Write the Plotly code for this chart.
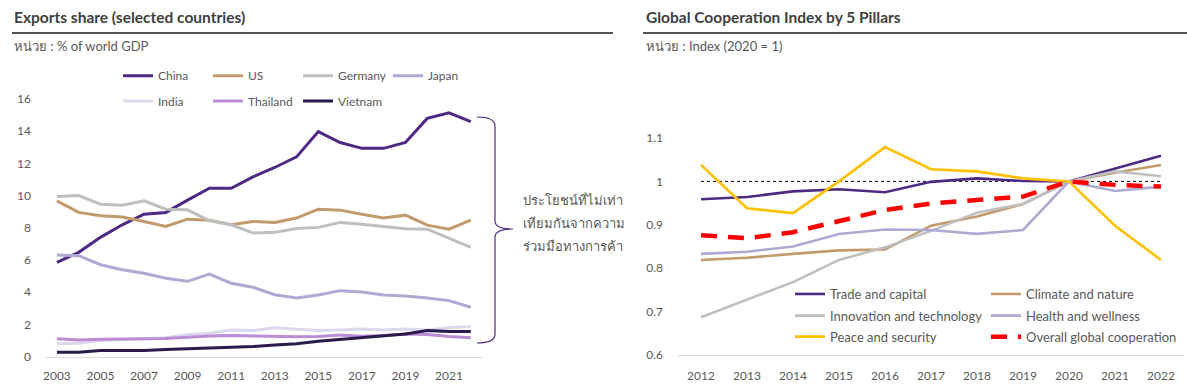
import plotly.graph_objects as go

W, H = 1187, 391

# ---------------- data: left chart ----------------
years_left = list(range(2003, 2023))
china = [5.85, 6.47, 7.4, 8.18, 8.84, 8.95, 9.71, 10.45, 10.45, 11.16, 11.74, 12.4, 13.97, 13.29, 12.93, 12.93, 13.29, 14.79, 15.14, 14.59]
us = [9.67, 8.95, 8.74, 8.66, 8.39, 8.08, 8.53, 8.47, 8.18, 8.39, 8.33, 8.6, 9.15, 9.09, 8.84, 8.6, 8.78, 8.16, 7.91, 8.47]
germany = [9.94, 10.0, 9.46, 9.4, 9.67, 9.15, 9.11, 8.43, 8.18, 7.67, 7.71, 7.95, 8.02, 8.33, 8.22, 8.06, 7.93, 7.91, 7.36, 6.78]
japan = [6.3, 6.26, 5.7, 5.39, 5.17, 4.86, 4.67, 5.12, 4.55, 4.3, 3.84, 3.64, 3.82, 4.09, 4.0, 3.82, 3.76, 3.64, 3.47, 3.06]
india = [0.79, 0.83, 0.99, 1.03, 1.1, 1.16, 1.36, 1.45, 1.65, 1.61, 1.78, 1.69, 1.61, 1.65, 1.71, 1.65, 1.71, 1.65, 1.78, 1.86]
thailand = [1.1, 1.03, 1.07, 1.1, 1.1, 1.12, 1.2, 1.28, 1.3, 1.28, 1.22, 1.22, 1.24, 1.34, 1.26, 1.3, 1.4, 1.36, 1.24, 1.16]
vietnam = [0.27, 0.27, 0.37, 0.37, 0.37, 0.43, 0.48, 0.5, 0.54, 0.62, 0.72, 0.79, 0.95, 1.07, 1.2, 1.28, 1.4, 1.61, 1.55, 1.55]
left_ticks = [0, 2, 4, 6, 8, 10, 12, 14, 16]
left_xticks = list(range(2003, 2023, 2))

# ---------------- data: right chart ----------------
years_right = list(range(2012, 2023))
trade = [0.959, 0.964, 0.977, 0.982, 0.975, 0.999, 1.007, 1.001, 1.0, 1.030, 1.059]
climate = [0.819, 0.824, 0.833, 0.841, 0.843, 0.898, 0.919, 0.948, 1.0, 1.020, 1.038]
innovation = [0.687, 0.727, 0.768, 0.819, 0.848, 0.886, 0.928, 0.948, 1.0, 1.023, 1.012]
health = [0.833, 0.838, 0.85, 0.879, 0.889, 0.888, 0.879, 0.888, 1.0, 0.978, 0.988]
peace = [1.038, 0.938, 0.927, 1.0, 1.079, 1.028, 1.023, 1.007, 1.0, 0.898, 0.819]
overall = [0.876, 0.869, 0.883, 0.909, 0.934, 0.949, 0.958, 0.965, 1.0, 0.992, 0.988]
right_ticks = [0.6, 0.7, 0.8, 0.9, 1.0, 1.1]
right_ticktext = ["0.6", "0.7", "0.8", "0.9", "1", "1.1"]
baseline_value = 1.0

FONT = "Lato"
GRAY = "#595959"

fig = go.Figure()

left_series = [
    ("China", china, "#4E2A84", "legend"),
    ("US", us, "#C39A6B", "legend"),
    ("Germany", germany, "#BFBFBF", "legend"),
    ("Japan", japan, "#ABABD3", "legend"),
    ("India", india, "#DCD8EE", "legend2"),
    ("Thailand", thailand, "#BC8DD4", "legend2"),
    ("Vietnam", vietnam, "#2B1A4C", "legend2"),
]
for name, vals, col, lg in left_series:
    fig.add_trace(go.Scatter(x=years_left, y=vals, name=name, mode="lines",
                             line=dict(color=col, width=3), legend=lg,
                             xaxis="x", yaxis="y"))

right_series = [
    ("Trade and capital", trade, "#4E2A84", "solid", 2.6, "legend3"),
    ("Climate and nature", climate, "#C39A6B", "solid", 2.6, "legend3"),
    ("Innovation and technology", innovation, "#BFBFBF", "solid", 2.6, "legend4"),
    ("Health and wellness", health, "#ABABD3", "solid", 2.6, "legend4"),
    ("Peace and security", peace, "#FFC000", "solid", 2.6, "legend5"),
    ("Overall global cooperation", overall, "#FF0000", "16px,11px", 4.5, "legend5"),
]
for name, vals, col, dash, wdt, lg in right_series:
    fig.add_trace(go.Scatter(x=years_right, y=vals, name=name, mode="lines",
                             line=dict(color=col, width=wdt, dash=dash), legend=lg,
                             xaxis="x2", yaxis="y2"))


def px(x):
    return x / W


def py(y):
    return 1 - y / H


axis_font = dict(family=FONT, size=12, color=GRAY)
fig.update_layout(
    width=W, height=H, autosize=False,
    margin=dict(l=0, r=0, t=0, b=0, autoexpand=False),
    paper_bgcolor="white", plot_bgcolor="white",
    font=dict(family=FONT, size=12, color=GRAY),
    xaxis=dict(domain=[px(46), px(481.7)], range=[2002.5, 2022.5], anchor="y",
               tickvals=left_xticks, ticktext=[str(v) for v in left_xticks],
               showline=True, linecolor="#D9D9D9", linewidth=1, automargin=False,
               showgrid=False, zeroline=False, ticks="", tickfont=axis_font,
               ticklabelstandoff=8),
    yaxis=dict(domain=[py(356.5), py(98.9)], range=[0, 16], anchor="x",
               tickvals=left_ticks, showgrid=False, zeroline=False, showline=False,
               ticks="", tickfont=axis_font, ticklabelstandoff=14, automargin=False),
    xaxis2=dict(domain=[px(678), px(1184)], range=[2011.5, 2022.5], anchor="y2",
                tickvals=years_right, ticktext=[str(v) for v in years_right],
                showline=True, linecolor="#D9D9D9", linewidth=1, automargin=False,
                showgrid=False, zeroline=False, ticks="", tickfont=axis_font,
                ticklabelstandoff=10),
    yaxis2=dict(domain=[py(355), py(138)], range=[0.6, 1.1], anchor="x2",
                tickvals=right_ticks, ticktext=right_ticktext, automargin=False,
                showgrid=False, zeroline=False, showline=False,
                ticks="", tickfont=axis_font, ticklabelstandoff=14),
)

leg_common = dict(orientation="h", xanchor="left", yanchor="middle",
                  bgcolor="rgba(0,0,0,0)", itemwidth=30, traceorder="normal")
left_leg_font = dict(family=FONT, size=12, color=GRAY)
right_leg_font = dict(family=FONT, size=13, color=GRAY)
fig.update_layout(
    legend=dict(x=px(118), y=py(75.7), entrywidth=45, font=left_leg_font, **leg_common),
    legend2=dict(x=px(118), y=py(101), entrywidth=45, font=left_leg_font, **leg_common),
    legend3=dict(x=px(790), y=py(294), entrywidth=151, font=right_leg_font, **leg_common),
    legend4=dict(x=px(790), y=py(315.7), entrywidth=151, font=right_leg_font, **leg_common),
    legend5=dict(x=px(790), y=py(336.7), entrywidth=151, font=right_leg_font, **leg_common),
)

shapes = []
# title rules
shapes.append(dict(type="line", xref="paper", yref="paper", x0=px(12), x1=px(613),
                   y0=py(33), y1=py(33), line=dict(color="#1a1a1a", width=1.5)))
shapes.append(dict(type="line", xref="paper", yref="paper", x0=px(643), x1=px(1187),
                   y0=py(33), y1=py(33), line=dict(color="#1a1a1a", width=1.5)))
# reference line at index = 1
shapes.append(dict(type="line", xref="x2", yref="y2", x0=years_right[0], x1=years_right[-1],
                   y0=baseline_value, y1=baseline_value,
                   line=dict(color="#000000", width=1, dash="3px,3px"), layer="below"))


# brace
def P(x, y):
    return f"{px(x):.5f},{py(y):.5f}"


brace = (f"M {P(477,117)} Q {P(495,117)} {P(495,126)} L {P(495,221)} "
         f"Q {P(495,229)} {P(513,229)} Q {P(495,229)} {P(495,237)} "
         f"L {P(495,334)} Q {P(495,343)} {P(477,343)}")
shapes.append(dict(type="path", xref="paper", yref="paper", path=brace,
                   line=dict(color="#4E2A84", width=1.2)))
fig.update_layout(shapes=shapes)

annotations = [
    dict(text="<b>Exports share (selected countries)</b>", x=px(12), y=py(17),
         font=dict(family=FONT, size=15.5, color="#404040")),
    dict(text="หน่วย : % of world GDP", x=px(12), y=py(46),
         font=dict(family=FONT, size=13, color=GRAY)),
    dict(text="<b>Global Cooperation Index by 5 Pillars</b>", x=px(644), y=py(17),
         font=dict(family=FONT, size=15.5, color="#404040")),
    dict(text="หน่วย : Index (2020 = 1)", x=px(644), y=py(46),
         font=dict(family=FONT, size=13, color=GRAY)),
    dict(text="ประโยชน์ที่ไม่เท่า", x=px(521), y=py(200),
         font=dict(family=FONT, size=13, color=GRAY)),
    dict(text="เทียมกันจากความ", x=px(521), y=py(223),
         font=dict(family=FONT, size=13, color=GRAY)),
    dict(text="ร่วมมือทางการค้า", x=px(521), y=py(246),
         font=dict(family=FONT, size=13, color=GRAY)),
]
for a in annotations:
    a.update(xref="paper", yref="paper", xanchor="left", yanchor="middle",
             showarrow=False)
fig.update_layout(annotations=annotations)

fig.write_html("out.html", config={"displayModeBar": False},
               post_script="document.body.style.margin='0';document.body.style.overflow='hidden';")
